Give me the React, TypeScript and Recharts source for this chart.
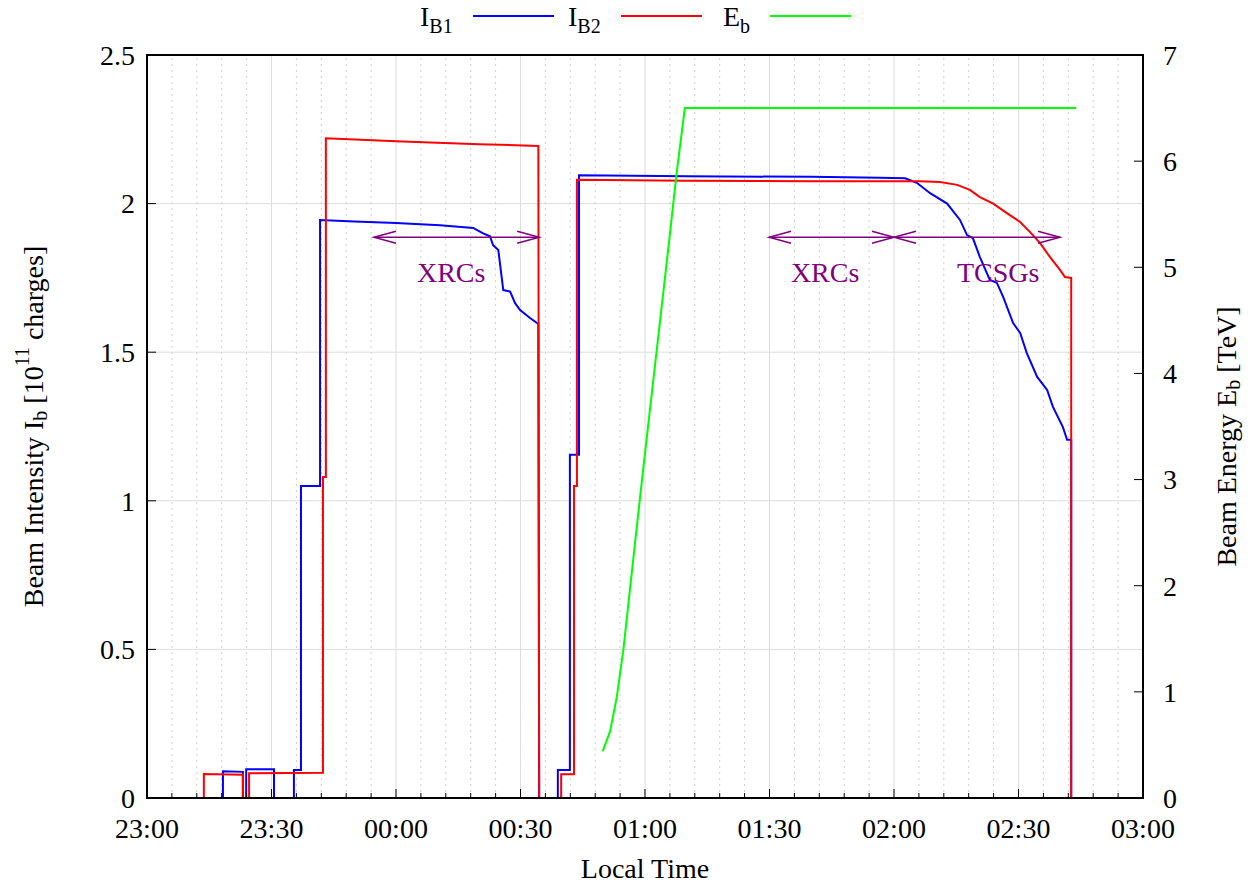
import { LineChart, Line, XAxis, YAxis, CartesianGrid, ReferenceLine, ReferenceDot } from 'recharts'

const W = 1254
const H = 885
const FONT = '"Liberation Serif", "Times New Roman", serif'
const PURPLE = '#800080'
const PLOT = { left: 147, top: 55, right: 111, bottom: 87 }

// time in minutes after 23:00 local time
const b1Time = [18.3, 18.3, 23.1, 23.1, 23.9, 23.9, 30.6, 30.6, 35.4, 35.4, 37.1, 37.1, 41.7, 41.7, 50, 60, 70.6, 78.6, 81.0, 82.65, 83.4, 84.65, 85.85, 87.5, 88.7, 89.9, 92.3, 94.3, 94.5, 99.0, 99.0, 101.9, 101.9, 104.1, 104.1, 130, 160, 176.6, 182.7, 185.5, 188.7, 192.8, 195.9, 197.6, 199.0, 200.7, 203.1, 204.8, 206.3, 208.7, 210.4, 212.0, 214.5, 216.9, 218.3, 220.7, 221.7, 222.7, 222.7]
const b1Int = [0, 0.09, 0.088, 0, 0, 0.097, 0.097, 0, 0, 0.094, 0.094, 1.05, 1.05, 1.945, 1.94, 1.935, 1.927, 1.918, 1.9, 1.89, 1.86, 1.844, 1.709, 1.704, 1.665, 1.642, 1.615, 1.595, 0, 0, 0.094, 0.094, 1.155, 1.155, 2.095, 2.092, 2.09, 2.087, 2.085, 2.07, 2.035, 2.0, 1.945, 1.894, 1.884, 1.82, 1.743, 1.733, 1.686, 1.598, 1.565, 1.497, 1.417, 1.373, 1.316, 1.248, 1.205, 1.205, 0]

const b2Time = [13.7, 13.7, 23.1, 23.1, 24.6, 24.6, 42.4, 42.4, 43.1, 43.1, 60, 80, 94.3, 94.5, 99.8, 99.8, 102.9, 102.9, 103.6, 103.6, 130, 160, 186.3, 191.1, 195.2, 198.3, 200.7, 203.9, 207.2, 210.4, 212.8, 215.2, 217.6, 220.0, 221.2, 222.7, 222.7]
const b2Int = [0, 0.081, 0.078, 0, 0, 0.083, 0.085, 1.08, 1.08, 2.22, 2.21, 2.2, 2.194, 0, 0, 0.08, 0.08, 1.05, 1.05, 2.08, 2.077, 2.075, 2.075, 2.073, 2.063, 2.046, 2.022, 2.0, 1.968, 1.938, 1.904, 1.867, 1.82, 1.777, 1.753, 1.75, 0]

const ebTime = [109.8, 111.6, 113.2, 114.8, 117.2, 119.6, 122.8, 126.0, 127.6, 129.6, 223.9]
const ebEnergy = [0.44, 0.63, 0.95, 1.4, 2.26, 3.11, 4.21, 5.31, 5.88, 6.5, 6.5]

const majorTicks = [0, 30, 60, 90, 120, 150, 180, 210, 240]
const majorLabels = ['23:00', '23:30', '00:00', '00:30', '01:00', '01:30', '02:00', '02:30', '03:00']
const allTicks = Array.from({ length: 41 }, (_, i) => i * 6)
const minorTicks = allTicks.filter(t => t % 30 !== 0)
const leftTicks = [0, 0.5, 1, 1.5, 2, 2.5]
const rightTicks = [0, 1, 2, 3, 4, 5, 6, 7]

const arrows = [
  { from: 54.7, to: 94.5, y: 1.887, text: 'XRCs', textX: 73.3, textY: 1.77 },
  { from: 149.9, to: 180, y: 1.887, text: 'XRCs', textX: 163.4, textY: 1.77 },
  { from: 180, to: 220, y: 1.887, text: 'TCSGs', textX: 205.1, textY: 1.77 },
]

const series = [
  { key: 'b1', name: 'I', sub: 'B1', color: '#0000ff', textX: 420, lineX: 473 },
  { key: 'b2', name: 'I', sub: 'B2', color: '#ff0000', textX: 568, lineX: 621 },
  { key: 'eb', name: 'E', sub: 'b', color: '#00ff00', textX: 723, lineX: 770 },
]

const b1 = b1Time.map((t, i) => ({ t, v: b1Int[i] }))
const b2 = b2Time.map((t, i) => ({ t, v: b2Int[i] }))
const eb = ebTime.map((t, i) => ({ t, v: ebEnergy[i] }))

const txt = { fontFamily: FONT, fontSize: 28, fill: '#000' }

function BottomTick(props: any) {
  const { x, y, payload } = props
  const i = majorTicks.indexOf(payload.value)
  return (
    <g>
      <line x1={x} y1={y} x2={x} y2={y - (i >= 0 ? 9 : 5)} stroke="#000" />
      {i >= 0 && <text x={x} y={y + 40} textAnchor="middle" style={txt}>{majorLabels[i]}</text>}
    </g>
  )
}

function TopTick(props: any) {
  const { x, y, payload } = props
  const major = majorTicks.includes(payload.value)
  return <line x1={x} y1={y} x2={x} y2={y + (major ? 9 : 5)} stroke="#000" />
}

function LeftTick(props: any) {
  const { x, y, payload } = props
  return (
    <g>
      <line x1={x} y1={y} x2={x + 9} y2={y} stroke="#000" />
      <text x={x - 12} y={y} dy="0.35em" textAnchor="end" style={txt}>{payload.value}</text>
    </g>
  )
}

function RightTick(props: any) {
  const { x, y, payload } = props
  return (
    <g>
      <line x1={x} y1={y} x2={x - 9} y2={y} stroke="#000" />
      <text x={x + 20} y={y} dy="0.35em" textAnchor="start" style={txt}>{payload.value}</text>
    </g>
  )
}

function Arrow(p: any) {
  const { x1, y1, x2, y2 } = p
  return (
    <g stroke={PURPLE} strokeWidth={1.5} fill="none">
      <line x1={x1} y1={y1} x2={x2} y2={y2} />
      <polyline points={`${x1 + 22},${y1 - 6} ${x1},${y1} ${x1 + 22},${y1 + 6}`} />
      <polyline points={`${x2 - 22},${y2 - 6} ${x2},${y2} ${x2 - 22},${y2 + 6}`} />
    </g>
  )
}

export default function App() {
  return (
    <div style={{ position: 'absolute', left: 0, top: 0, width: W, height: H, background: '#fff' }}>
      <LineChart width={W} height={H} margin={{ top: PLOT.top, right: 0, bottom: 0, left: 0 }}>
        <CartesianGrid xAxisId="b" yAxisId="l" vertical={false} stroke="#dcdcdc" />
        {minorTicks.map(t => (
          <ReferenceLine key={'m' + t} xAxisId="b" yAxisId="l" x={t} stroke="#cfcfcf" strokeDasharray="2 4" />
        ))}
        {majorTicks.slice(1, -1).map(t => (
          <ReferenceLine key={'M' + t} xAxisId="b" yAxisId="l" x={t} stroke="#dcdcdc" />
        ))}
        <XAxis
          xAxisId="b"
          type="number"
          dataKey="t"
          domain={[0, 240]}
          ticks={allTicks}
          interval={0}
          height={PLOT.bottom}
          tickSize={0}
          tickMargin={0}
          tickLine={false}
          tick={<BottomTick />}
          axisLine={false}
          label={{
            content: ({ viewBox }: any) => (
              <text x={viewBox.x + viewBox.width / 2} y={viewBox.y + 80} textAnchor="middle" style={txt}>Local Time</text>
            ),
          }}
        />
        <XAxis
          xAxisId="t"
          orientation="top"
          type="number"
          domain={[0, 240]}
          ticks={allTicks}
          interval={0}
          height={0}
          tickSize={0}
          tickMargin={0}
          tickLine={false}
          tick={<TopTick />}
          axisLine={false}
        />
        <YAxis
          yAxisId="l"
          width={PLOT.left}
          domain={[0, 2.5]}
          ticks={leftTicks}
          interval={0}
          tickSize={0}
          tickMargin={0}
          tickLine={false}
          tick={<LeftTick />}
          axisLine={false}
          label={{
            content: ({ viewBox }: any) => {
              const cx = viewBox.x + 33
              const cy = viewBox.y + viewBox.height / 2
              return (
                <text x={cx} y={cy} textAnchor="middle" dominantBaseline="central" transform={`rotate(-90 ${cx} ${cy})`} style={txt}>
                  Beam Intensity I<tspan fontSize={20} dy={7}>b</tspan>
                  <tspan dy={-7}> [10</tspan>
                  <tspan fontSize={20} dy={-11}>11</tspan>
                  <tspan dy={11}>  charges]</tspan>
                </text>
              )
            },
          }}
        />
        <YAxis
          yAxisId="r"
          orientation="right"
          width={PLOT.right}
          domain={[0, 7]}
          ticks={rightTicks}
          interval={0}
          tickSize={0}
          tickMargin={0}
          tickLine={false}
          tick={<RightTick />}
          axisLine={false}
          label={{
            content: ({ viewBox }: any) => {
              const cx = viewBox.x + 83
              const cy = viewBox.y + viewBox.height / 2 + 10
              return (
                <text x={cx} y={cy} textAnchor="middle" dominantBaseline="central" transform={`rotate(-90 ${cx} ${cy})`} style={txt}>
                  Beam Energy E<tspan fontSize={20} dy={7}>b</tspan>
                  <tspan dy={-7}> [TeV]</tspan>
                </text>
              )
            },
          }}
        />
        <Line xAxisId="b" yAxisId="l" data={b1} dataKey="v" type="linear" stroke="#0000ff" strokeWidth={2} dot={false} isAnimationActive={false} />
        <Line xAxisId="b" yAxisId="l" data={b2} dataKey="v" type="linear" stroke="#ff0000" strokeWidth={2} dot={false} isAnimationActive={false} />
        <Line xAxisId="b" yAxisId="r" data={eb} dataKey="v" type="linear" stroke="#00ff00" strokeWidth={2} dot={false} isAnimationActive={false} />
        {arrows.map((a, i) => (
          <ReferenceLine
            key={'a' + i}
            xAxisId="b"
            yAxisId="l"
            segment={[{ x: a.from, y: a.y }, { x: a.to, y: a.y }]}
            shape={<Arrow />}
          />
        ))}
        {arrows.map((a, i) => (
          <ReferenceDot
            key={'t' + i}
            xAxisId="b"
            yAxisId="l"
            x={a.textX}
            y={a.textY}
            r={0}
            shape={(p: any) => (
              <text x={p.cx} y={p.cy} dy="0.35em" textAnchor="middle" style={{ ...txt, fill: PURPLE }}>{a.text}</text>
            )}
          />
        ))}
      </LineChart>
      <svg width={W} height={H} style={{ position: 'absolute', left: 0, top: 0, pointerEvents: 'none' }}>
        <rect
          x={PLOT.left}
          y={PLOT.top}
          width={W - PLOT.left - PLOT.right}
          height={H - PLOT.top - PLOT.bottom}
          fill="none"
          stroke="#000"
          strokeWidth={2}
        />
        {series.map(s => (
          <g key={s.key}>
            <text x={s.textX} y={26} style={txt}>
              {s.name}<tspan fontSize={20} dy={7}>{s.sub}</tspan>
            </text>
            <line x1={s.lineX} y1={16} x2={s.lineX + 81} y2={16} stroke={s.color} strokeWidth={2} />
          </g>
        ))}
      </svg>
    </div>
  )
}
